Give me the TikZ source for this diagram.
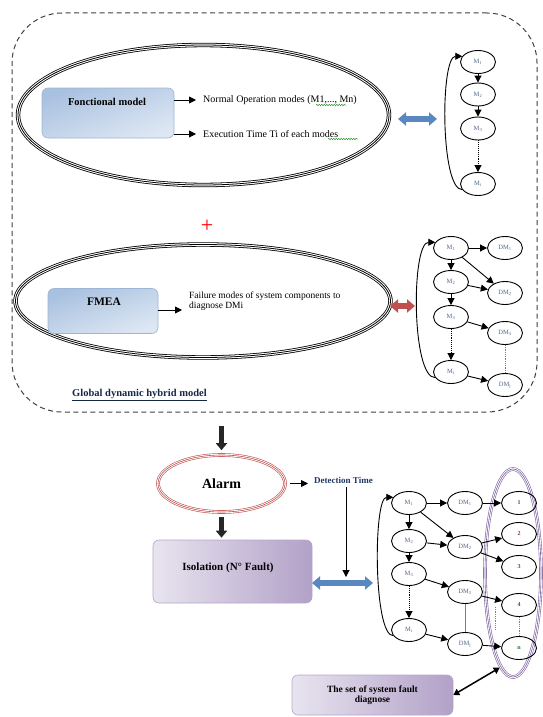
\documentclass[tikz,border=0pt]{standalone}
\usepackage{fontspec}
\setmainfont{Liberation Serif}
\usetikzlibrary{arrows.meta,shapes.geometric,decorations.pathmorphing}

\definecolor{labelgrey}{HTML}{4F6586}
\definecolor{numred}{HTML}{7A3B2E}
\definecolor{navy}{HTML}{1F3864}
\definecolor{arrowblue}{HTML}{5B87C0}
\definecolor{arrowred}{HTML}{C0504D}
\definecolor{alarmred}{HTML}{C0504D}
\definecolor{lilac}{HTML}{8064A2}
\definecolor{boxblueA}{HTML}{A9C1E0}
\definecolor{boxblueB}{HTML}{DDE7F3}
\definecolor{boxblueline}{HTML}{9DB5D6}
\definecolor{boxlilacA}{HTML}{E8E4EF}
\definecolor{boxlilacB}{HTML}{B2A1C8}
\definecolor{boxlilacline}{HTML}{B5A6CA}
\definecolor{wavegreen}{HTML}{3A9A3A}

\newcommand\setfs[1]{\fontsize{#1}{#1}\selectfont}

\begin{document}
\begin{tikzpicture}[x=1pt,y=-1pt,
  state/.style={ellipse, draw, line width=0.9pt, minimum width=35pt, minimum height=23pt,
    inner sep=0pt, font=\setfs{6.5}, text=labelgrey},
  numstate/.style={state, text=numred, font=\bfseries\setfs{6}},
  link/.style={line width=0.9pt, -{Triangle[width=7pt,length=7pt]}},
  dotlink/.style={link, densely dotted},
  tripleline/.style={draw=#1, line width=4.4pt,
    postaction={draw=white, line width=2.8pt},
    postaction={draw=#1, line width=0.8pt}},
  thinline/.style={draw=#1, line width=3.6pt,
    postaction={draw=white, line width=2.4pt},
    postaction={draw=#1, line width=0.6pt}},
  bigellipse/.style={ellipse, tripleline=black, inner sep=0pt},
  bluebox/.style={rounded corners=6pt, draw=boxblueline, line width=0.6pt,
    shading=axis, top color=boxblueA, bottom color=boxblueB, shading angle=20},
  lilacbox/.style={rounded corners=6pt, draw=boxlilacline, line width=0.6pt,
    left color=boxlilacA, right color=boxlilacB},
  blockarrow/.style={line width=5pt, draw=black!85, -{Triangle[width=11pt,length=7pt]}},
  fatdouble/.style={line width=6pt, draw=#1,
    {Triangle[width=13pt,length=8pt]}-{Triangle[width=13pt,length=8pt]}},
  wave/.style={draw=wavegreen, line width=0.5pt, decorate,
    decoration={snake, amplitude=0.8pt, segment length=2.5pt}},
  plain/.style={font=\setfs{10}, inner sep=1pt}
]
\useasboundingbox (0,0) rectangle (542,717);

% ---------- global dynamic hybrid model frame ----------
\node (gbox) [draw=black!75, dashed, dash pattern=on 5pt off 3.5pt, line width=1pt,
  rounded corners=50pt, minimum width=525pt, minimum height=399pt] at (274.5,212.5) {};
\node (glabel) [anchor=west, font=\bfseries\setfs{10.5}, text=navy!70!black, inner sep=0pt]
  at (72,395) {\underline{Global dynamic hybrid model}};

% ---------- functional model ----------
\node (ell1) [bigellipse, minimum width=371pt, minimum height=140pt] at (203.5,115) {};
\node (fbox) [bluebox, minimum width=132pt, minimum height=50pt] at (108,113) {};
\node (ftext) [font=\bfseries\setfs{10.5}] at (107,102) {Fonctional model};
\node (nom) [plain, anchor=west] at (202,100) {Normal Operation modes (M1,..., Mn)};
\node (exe) [plain, anchor=west] at (202,134) {Execution Time Ti of each modes};
\draw[link, shorten >=6pt] (fbox.east |- nom.west) -- (nom.west);
\draw[link, shorten >=6pt] (fbox.east |- exe.west) -- (exe.west);
\draw[wave] (316,105) -- (346,105);
\draw[wave] (328,139) -- (358,139);

% chain of normal modes
\node (m1a) [state] at (478,62) {M\textsubscript{1}};
\node (m2a) [state] at (478,94.5) {M\textsubscript{2}};
\node (m3a) [state] at (478,128.5) {M\textsubscript{3}};
\node (m4a) [state] at (478,184) {M\textsubscript{i}};
\draw[link] (m1a) -- (m2a);
\draw[link] (m2a) -- (m3a);
\draw[dotlink] (m3a) -- (m4a);
\draw[link] (m4a.200) .. controls +(-22,0) and +(-22,0) .. (m1a.160);
\coordinate (ba1) at (398,119);
\coordinate (ba2) at (437,119);
\draw[fatdouble=arrowblue] (ba1) -- (ba2);

% ---------- plus ----------
\node (plus) [text=red, font=\setfs{22}, inner sep=0pt] at (207,226) {+};

% ---------- FMEA ----------
\node (ell2) [bigellipse, minimum width=375pt, minimum height=113pt] at (203,301) {};
\node (mbox) [bluebox, minimum width=110pt, minimum height=45pt] at (103,311) {};
\node (mtext) [font=\bfseries\setfs{11.5}] at (104,302) {FMEA};
\node (fail) [font=\setfs{9.5}, anchor=west, align=left, inner sep=1pt] at (188,301)
  {Failure modes of system components to\\diagnose DMi};
\draw[link] (mbox.east |- 0,310) -- (182,310);
\coordinate (ra1) at (390,306);
\coordinate (ra2) at (415,306);
\draw[fatdouble=arrowred] (ra1) -- (ra2);

% chain of modes with failure modes
\node (m1b) [state] at (451,248) {M\textsubscript{1}};
\node (m2b) [state] at (451,282) {M\textsubscript{2}};
\node (m3b) [state] at (451,317) {M\textsubscript{3}};
\node (m4b) [state] at (451,372) {M\textsubscript{i}};
\node (d1b) [state] at (505,248) {DM\textsubscript{1}};
\node (d2b) [state] at (505,293) {DM\textsubscript{2}};
\node (d3b) [state] at (505,333) {DM\textsubscript{3}};
\node (d4b) [state] at (505,385) {DM\textsubscript{j}};
\draw[link] (m1b) -- (m2b);
\draw[link] (m2b) -- (m3b);
\draw[dotlink] (m3b) -- (m4b);
\draw[link] (m4b.200) .. controls +(-24,0) and +(-24,0) .. (m1b.160);
\draw[link] (m1b) -- (d1b);
\draw[link] (m1b) -- (d2b);
\draw[link] (m2b) -- (d2b);
\draw[link] (m3b) -- (d3b);
\draw[link] (m4b) -- (d4b);
\draw[densely dotted, line width=0.8pt, gray] (d3b) -- (d4b);

% ---------- alarm and isolation ----------
\node (alarm) [ellipse, thinline=alarmred, minimum width=127pt, minimum height=57pt,
  font=\bfseries\setfs{14}] at (221.5,483.5) {Alarm};
\draw[blockarrow, shorten <=13pt, shorten >=3pt] (gbox.south -| alarm.north) -- (alarm.north);
\node (det) [font=\bfseries\setfs{9}, text=navy, anchor=west, inner sep=1pt] at (313,480) {Detection Time};
\draw[link, shorten <=3pt, shorten >=5pt] (alarm.east) -- (det.west |- alarm.east);

\node (iso) [lilacbox, minimum width=159pt, minimum height=63pt] at (232.5,571.5) {};
\node (isotext) [font=\bfseries\setfs{11}] at (228,568) {Isolation (N° Fault)};
\draw[blockarrow, shorten <=3pt, shorten >=2pt] (alarm.south) -- (alarm.south |- iso.north);

\coordinate (ib1) at (312,583);
\coordinate (ib2) at (373,583);
\draw[fatdouble=arrowblue] (ib1) -- (ib2);
\coordinate (dtend) at (346,577);
\draw[link, line width=1pt] (det.south -| dtend) ++(0,3) -- (dtend);

% chain of modes, failure modes and faults
\node (m1c) [state] at (409,503) {M\textsubscript{1}};
\node (m2c) [state] at (409,541) {M\textsubscript{2}};
\node (m3c) [state] at (409,574) {M\textsubscript{3}};
\node (m4c) [state] at (409,630) {M\textsubscript{i}};
\node (d1c) [state] at (465,503) {DM\textsubscript{1}};
\node (d2c) [state] at (465,547) {DM\textsubscript{2}};
\node (d3c) [state] at (465,592) {DM\textsubscript{3}};
\node (d4c) [state] at (465,644) {DM\textsubscript{j}};
\node (pell) [ellipse, thinline=lilac, minimum width=56pt, minimum height=208pt] at (513,573) {};
\node (n1) [numstate] at (519,503) {1};
\node (n2) [numstate] at (519,534) {2};
\node (n3) [numstate] at (519,567) {3};
\node (n4) [numstate] at (519,605) {4};
\node (n5) [numstate, text=wavegreen!70!black] at (519,648) {n};
\draw[link] (m1c) -- (m2c);
\draw[link] (m2c) -- (m3c);
\draw[dotlink] (m3c) -- (m4c);
\draw[link] (m4c.200) .. controls +(-20,0) and +(-20,0) .. (m1c.160);
\draw[link] (m1c) -- (d1c);
\draw[link] (m1c) -- (d2c);
\draw[link] (m2c) -- (d2c);
\draw[link] (m3c) -- (d3c);
\draw[link] (m4c) -- (d4c);
\draw[line width=0.6pt, gray] (d3c) -- (d4c);
\draw[link] (d1c) -- (n1);
\draw[link] (d2c) -- (n2);
\draw[link] (d2c) -- (n3);
\draw[link] (d3c) -- (n4);
\draw[link] (d4c) -- (n5);
\draw[densely dotted, line width=0.8pt, gray] (n4) -- (n5);
\coordinate (pd1) at (495,607);
\coordinate (pd2) at (495,629);
\draw[densely dotted, line width=0.8pt, gray] (pd1) -- (pd2);

% ---------- set of faults ----------
\node (setbox) [lilacbox, minimum width=161pt, minimum height=40pt, align=center,
  font=\bfseries\setfs{9.5}] at (372.5,695) {The set of system fault\\diagnose};
\draw[line width=1.5pt, {Triangle[width=7pt,length=6pt]}-{Triangle[width=7pt,length=6pt]}]
  (setbox.east) -- (pell.262);
\end{tikzpicture}
\end{document}
